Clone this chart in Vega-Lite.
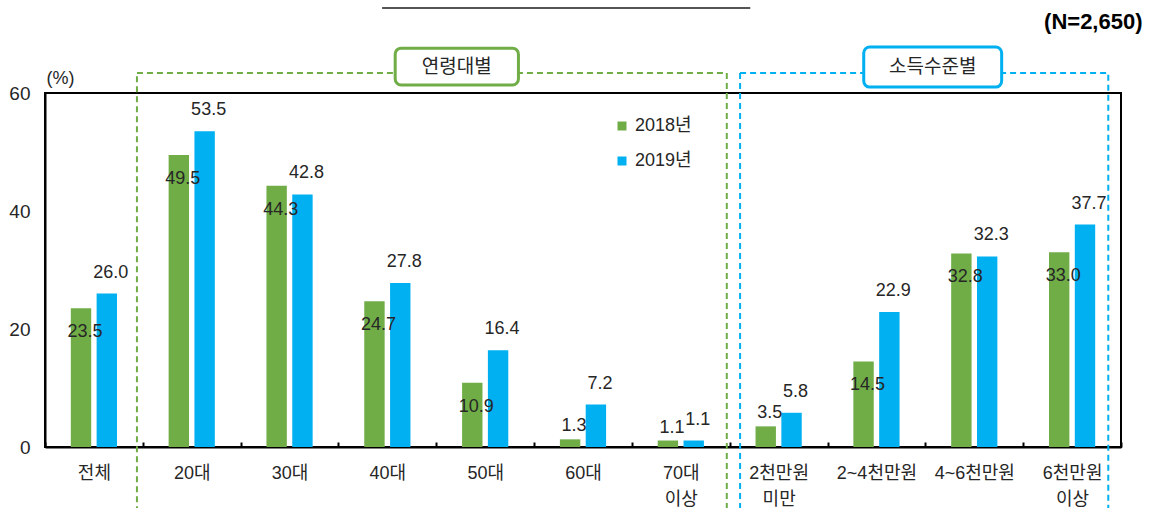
{
  "$schema": "https://vega.github.io/schema/vega-lite/v6.json",
  "width": 1076,
  "height": 354,
  "autosize": {"type": "none"},
  "padding": {"left": 45, "top": 93, "right": 31, "bottom": 61},
  "background": "white",
  "config": {
    "font": "Liberation Sans, Noto Sans CJK KR, sans-serif",
    "view": {"stroke": "black", "strokeWidth": 2},
    "axis": {"grid": false}
  },
  "datasets": {
    "bars": [
      {"cat": "전체", "year": "2018년", "value": 23.5},
      {"cat": "전체", "year": "2019년", "value": 26.0},
      {"cat": "20대", "year": "2018년", "value": 49.5},
      {"cat": "20대", "year": "2019년", "value": 53.5},
      {"cat": "30대", "year": "2018년", "value": 44.3},
      {"cat": "30대", "year": "2019년", "value": 42.8},
      {"cat": "40대", "year": "2018년", "value": 24.7},
      {"cat": "40대", "year": "2019년", "value": 27.8},
      {"cat": "50대", "year": "2018년", "value": 10.9},
      {"cat": "50대", "year": "2019년", "value": 16.4},
      {"cat": "60대", "year": "2018년", "value": 1.3},
      {"cat": "60대", "year": "2019년", "value": 7.2},
      {"cat": "70대 이상", "year": "2018년", "value": 1.1},
      {"cat": "70대 이상", "year": "2019년", "value": 1.1},
      {"cat": "2천만원 미만", "year": "2018년", "value": 3.5},
      {"cat": "2천만원 미만", "year": "2019년", "value": 5.8},
      {"cat": "2~4천만원", "year": "2018년", "value": 14.5},
      {"cat": "2~4천만원", "year": "2019년", "value": 22.9},
      {"cat": "4~6천만원", "year": "2018년", "value": 32.8},
      {"cat": "4~6천만원", "year": "2019년", "value": 32.3},
      {"cat": "6천만원 이상", "year": "2018년", "value": 33.0},
      {"cat": "6천만원 이상", "year": "2019년", "value": 37.7}
    ],
    "boxes": [
      {"group": "age", "x1": 0.94, "x2": 6.97, "y1": -12, "y2": 63.4},
      {"group": "income", "x1": 7.106, "x2": 10.87, "y1": -12, "y2": 63.4}
    ],
    "tags": [
      {"group": "age", "label": "연령대별", "x1": 3.58, "x2": 4.84, "y1": 61.36, "y2": 67.6},
      {"group": "income", "label": "소득수준별", "x1": 8.37, "x2": 9.78, "y1": 61.0, "y2": 67.8}
    ],
    "notes": [{"label": "(N=2,650)", "x": 11.22, "y": 72.0}],
    "underline": [{"x1": 3.446, "x2": 7.21, "y": 74.4}]
  },
  "layer": [
    {
      "data": {"name": "bars"},
      "encoding": {
        "x": {
          "field": "cat", "type": "nominal",
          "sort": ["전체", "20대", "30대", "40대", "50대", "60대", "70대 이상", "2천만원 미만", "2~4천만원", "4~6천만원", "6천만원 이상"],
          "scale": {"paddingInner": 0, "paddingOuter": 0},
          "axis": {
            "title": null, "labelAngle": 0, "tickBand": "extent", "ticks": true,
            "tickSize": -5, "tickColor": "black", "tickWidth": 2,
            "domainColor": "black", "domainWidth": 2,
            "labelFontSize": 18, "labelColor": "#262626", "labelPadding": 22,
            "labelLineHeight": 26, "labelExpr": "split(datum.label, ' ')"
          }
        },
        "xOffset": {"field": "year", "type": "nominal", "scale": {"paddingInner": 0.21, "paddingOuter": 1.14}},
        "y": {
          "field": "value", "type": "quantitative",
          "scale": {"domain": [0, 60], "nice": false},
          "axis": {
            "title": "(%)", "titleAngle": 0, "titleX": 15, "titleY": -15,
            "titleAlign": "center", "titleBaseline": "middle", "titleFontSize": 18,
            "titleFontWeight": "normal", "titleColor": "#262626",
            "ticks": false, "labelPadding": 15, "labelFontSize": 19, "labelColor": "#262626",
            "domainColor": "black", "domainWidth": 2, "values": [0, 20, 40, 60]
          }
        }
      },
      "layer": [
        {
          "mark": {"type": "bar"},
          "encoding": {
            "color": {
              "field": "year", "type": "nominal",
              "scale": {"range": ["#70AD47", "#00B0F0"]},
              "legend": {
                "title": null, "orient": "none", "legendX": 568, "legendY": 24,
                "symbolType": "square", "symbolSize": 81, "symbolStrokeWidth": 0,
                "labelFontSize": 18, "labelColor": "#262626", "rowPadding": 17,
                "labelOffset": 4, "padding": 0
              }
            }
          }
        },
        {
          "transform": [{"filter": "datum.year == '2019년'"}],
          "mark": {"type": "text", "dy": -21, "dx": 4, "fontSize": 18, "color": "#262626", "baseline": "middle"},
          "encoding": {"text": {"field": "value", "format": ".1f"}}
        },
        {
          "transform": [{"filter": "datum.year == '2018년' && datum.value >= 5"}],
          "mark": {"type": "text", "dy": 24, "dx": 4, "fontSize": 18, "color": "#262626", "baseline": "middle"},
          "encoding": {"text": {"field": "value", "format": ".1f"}}
        },
        {
          "transform": [{"filter": "datum.year == '2018년' && datum.value < 5"}],
          "mark": {"type": "text", "dy": -13, "dx": 4, "fontSize": 18, "color": "#262626", "baseline": "middle"},
          "encoding": {"text": {"field": "value", "format": ".1f"}}
        }
      ]
    },
    {
      "data": {"name": "boxes"},
      "transform": [{"filter": "datum.group == 'age'"}],
      "mark": {"type": "rect", "fill": "white", "fillOpacity": 0, "stroke": "#70AD47", "strokeWidth": 2, "strokeDash": [6, 4], "clip": false},
      "encoding": {
        "x": {"field": "x1", "type": "quantitative", "scale": {"domain": [0, 11], "nice": false, "zero": false}, "axis": null},
        "x2": {"field": "x2"},
        "y": {"field": "y1", "type": "quantitative", "scale": {"domain": [0, 60], "nice": false}, "axis": null},
        "y2": {"field": "y2"}
      }
    },
    {
      "data": {"name": "boxes"},
      "transform": [{"filter": "datum.group == 'income'"}],
      "mark": {"type": "rect", "fill": "white", "fillOpacity": 0, "stroke": "#00B0F0", "strokeWidth": 2, "strokeDash": [6, 4], "clip": false},
      "encoding": {
        "x": {"field": "x1", "type": "quantitative", "scale": {"domain": [0, 11], "nice": false, "zero": false}, "axis": null},
        "x2": {"field": "x2"},
        "y": {"field": "y1", "type": "quantitative", "scale": {"domain": [0, 60], "nice": false}, "axis": null},
        "y2": {"field": "y2"}
      }
    },
    {
      "data": {"name": "tags"},
      "transform": [{"filter": "datum.group == 'age'"}],
      "mark": {"type": "rect", "fill": "white", "stroke": "#70AD47", "strokeWidth": 3, "cornerRadius": 6, "clip": false},
      "encoding": {
        "x": {"field": "x1", "type": "quantitative", "scale": {"domain": [0, 11], "nice": false, "zero": false}, "axis": null},
        "x2": {"field": "x2"},
        "y": {"field": "y1", "type": "quantitative", "scale": {"domain": [0, 60], "nice": false}, "axis": null},
        "y2": {"field": "y2"}
      }
    },
    {
      "data": {"name": "tags"},
      "transform": [{"filter": "datum.group == 'income'"}],
      "mark": {"type": "rect", "fill": "white", "stroke": "#00B0F0", "strokeWidth": 3, "cornerRadius": 6, "clip": false},
      "encoding": {
        "x": {"field": "x1", "type": "quantitative", "scale": {"domain": [0, 11], "nice": false, "zero": false}, "axis": null},
        "x2": {"field": "x2"},
        "y": {"field": "y1", "type": "quantitative", "scale": {"domain": [0, 60], "nice": false}, "axis": null},
        "y2": {"field": "y2"}
      }
    },
    {
      "data": {"name": "tags"},
      "transform": [{"calculate": "(datum.x1 + datum.x2) / 2", "as": "xc"}, {"calculate": "(datum.y1 + datum.y2) / 2", "as": "yc"}],
      "mark": {"type": "text", "fontSize": 19, "color": "#262626", "align": "center", "baseline": "middle", "clip": false},
      "encoding": {
        "x": {"field": "xc", "type": "quantitative", "scale": {"domain": [0, 11], "nice": false, "zero": false}, "axis": null},
        "y": {"field": "yc", "type": "quantitative", "scale": {"domain": [0, 60], "nice": false}, "axis": null},
        "text": {"field": "label"}
      }
    },
    {
      "data": {"name": "notes"},
      "mark": {"type": "text", "fontSize": 22, "fontWeight": "bold", "color": "black", "align": "right", "baseline": "middle", "clip": false},
      "encoding": {
        "x": {"field": "x", "type": "quantitative", "scale": {"domain": [0, 11], "nice": false, "zero": false}, "axis": null},
        "y": {"field": "y", "type": "quantitative", "scale": {"domain": [0, 60], "nice": false}, "axis": null},
        "text": {"field": "label"}
      }
    },
    {
      "data": {"name": "underline"},
      "mark": {"type": "rule", "color": "#555555", "strokeWidth": 2, "clip": false},
      "encoding": {
        "x": {"field": "x1", "type": "quantitative", "scale": {"domain": [0, 11], "nice": false, "zero": false}, "axis": null},
        "x2": {"field": "x2"},
        "y": {"field": "y", "type": "quantitative", "scale": {"domain": [0, 60], "nice": false}, "axis": null}
      }
    }
  ],
  "resolve": {"scale": {"x": "independent", "y": "independent"}}
}
